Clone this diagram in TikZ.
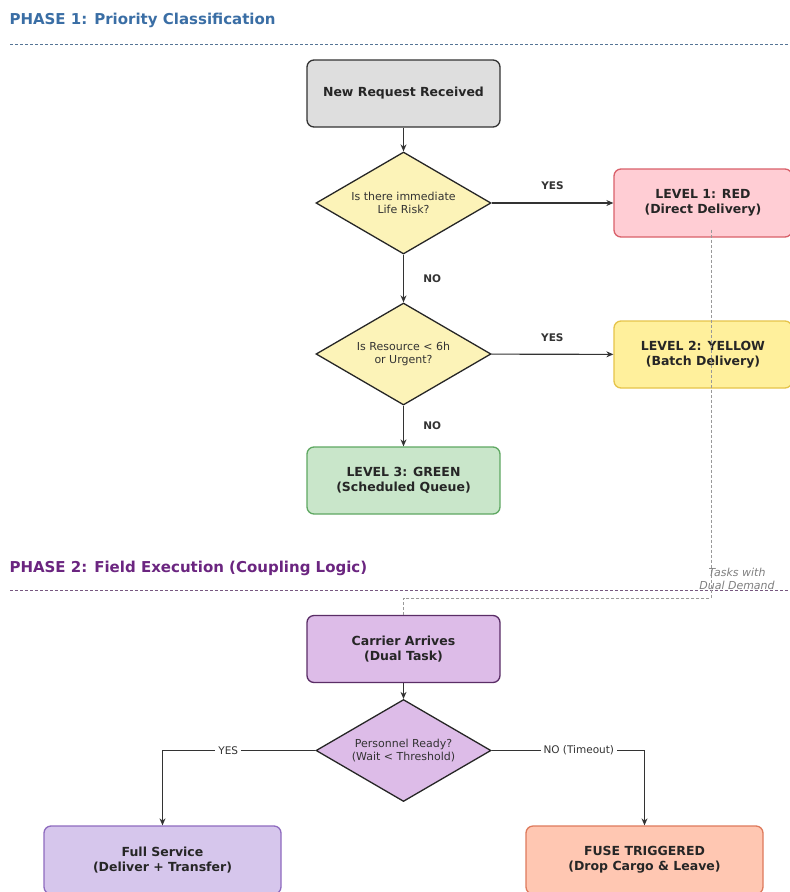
\documentclass[tikz,border=0pt]{standalone}
\usepackage{fontspec}
\setmainfont{DejaVu Sans}
\usetikzlibrary{shapes.geometric,arrows.meta}
\definecolor{pone}{HTML}{3A6EA5}
\definecolor{ptwo}{HTML}{6B2580}
\definecolor{grayfill}{HTML}{DEDEDE}
\definecolor{ydia}{HTML}{FCF3B8}
\definecolor{redfill}{HTML}{FFCDD4}
\definecolor{redline}{HTML}{D9606A}
\definecolor{yelfill}{HTML}{FFF09C}
\definecolor{yelline}{HTML}{E6C44A}
\definecolor{grnfill}{HTML}{C9E6CA}
\definecolor{grnline}{HTML}{5FA862}
\definecolor{purfill}{HTML}{DDBCE8}
\definecolor{purline}{HTML}{5A2D66}
\definecolor{lavfill}{HTML}{D6C6EC}
\definecolor{lavline}{HTML}{8E6BBF}
\definecolor{orgfill}{HTML}{FFC7B2}
\definecolor{orgline}{HTML}{DE7A5C}
\tikzset{
  box/.style={draw=#1, rounded corners=7pt, line width=1.3pt, minimum width=193pt, minimum height=67pt, align=center, font=\bfseries\fontsize{12.5}{15}\selectfont, text=black!85},
  dia/.style={diamond, draw=black!85, line width=1.3pt, fill=#1, minimum width=175pt, minimum height=102pt, aspect=1.7, inner sep=0pt, align=center, font=\fontsize{11}{13.5}\selectfont, text=black!80},
  conn/.style={draw=black!80, line width=1.1pt},
  arr/.style={conn, -{Stealth[length=7pt,width=6pt]}},
  lab/.style={font=\bfseries\fontsize{10.5}{12}\selectfont, text=black!80},
  lab2/.style={font=\fontsize{10.5}{12}\selectfont, text=black!80, fill=white, inner sep=3pt},
  phase/.style={anchor=west, font=\bfseries\fontsize{15}{18}\selectfont},
}
\begin{document}
\begin{tikzpicture}[x=1pt,y=-1pt]
\useasboundingbox[fill=white] (0,0) rectangle (790,892);
% Phase 1
\node[phase, text=pone] (t1) at (6,20) {PHASE 1: Priority Classification};
\draw[pone!60!gray, line width=1pt, dash pattern=on 3pt off 2pt] (10,44) -- (790,44);

\node[box=black!80, fill=grayfill] (n1) at (403.5,93.5) {New Request Received};
\node[dia=ydia] (d1) at (403.5,203) {Is there immediate\\Life Risk?};
\node[box=redline, fill=redfill, minimum width=178pt, minimum height=68pt] (r1) at (703,203) {LEVEL 1: RED\\(Direct Delivery)};
\node[dia=ydia] (d2) at (403.5,354) {Is Resource < 6h\\or Urgent?};
\node[box=yelline, fill=yelfill, minimum width=178pt, minimum height=67pt] (y1) at (703,354.5) {LEVEL 2: YELLOW\\(Batch Delivery)};
\node[box=grnline, fill=grnfill] (g1) at (403.5,480.5) {LEVEL 3: GREEN\\(Scheduled Queue)};

\draw[arr] (n1) -- (d1);
\draw[arr] (d1) -- node[lab, above=9pt] {YES} (r1);
\draw[arr] (d1) -- node[lab, right=16pt] {NO} (d2);
\draw[arr] (d2) -- node[lab, above=9pt] {YES} (y1);
\draw[arr] (d2) -- node[lab, right=16pt] {NO} (g1);

% Phase 2
\node[phase, text=ptwo] (t2) at (6,568) {PHASE 2: Field Execution (Coupling Logic)};
\draw[ptwo!45!gray, line width=1pt, dash pattern=on 3pt off 2pt] (10,590) -- (790,590);

\node[box=purline, fill=purfill] (c1) at (403.5,649) {Carrier Arrives\\(Dual Task)};
\node[dia=purfill] (d3) at (403.5,750.5) {Personnel Ready?\\(Wait < Threshold)};
\node[box=lavline, fill=lavfill, minimum width=237pt, minimum height=68pt] (f1) at (162.5,860) {Full Service\\(Deliver + Transfer)};
\node[box=orgline, fill=orgfill, minimum width=237pt, minimum height=68pt] (f2) at (644.5,860) {FUSE TRIGGERED\\(Drop Cargo \& Leave)};

\coordinate (k1) at (711,598);
\coordinate (k2) at (403.5,598);
\draw[gray!80, line width=0.8pt, dash pattern=on 3pt off 2pt] (r1.south -| k1) ++(0,-8) -- (k1) -- (k2) -- (c1.north);
\node[font=\itshape\fontsize{11}{13}\selectfont, text=gray, align=center] (tw) at (737,579) {Tasks with\\Dual Demand};

\draw[arr] (c1) -- (d3);
\draw[arr] (d3.west) -- node[lab2, pos=0.57] {YES} (f1.north |- d3.west) -- (f1.north);
\draw[arr] (d3.east) -- node[lab2, pos=0.57] {NO (Timeout)} (f2.north |- d3.east) -- (f2.north);
\end{tikzpicture}
\end{document}
